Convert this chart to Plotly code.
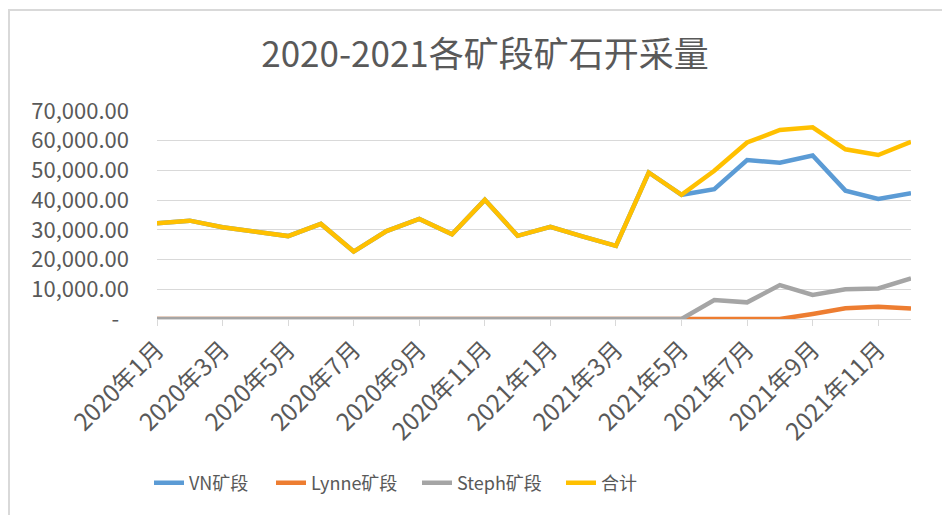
import plotly.graph_objects as go

months = [f"2020年{m}月" for m in range(1, 13)] + [f"2021年{m}月" for m in range(1, 13)]

vn = [32200, 33100, 30900, 29400, 27900, 32000, 22700, 29600, 33700, 28500, 40100, 28000,
      31000, 27700, 24600, 49300, 41800, 43700, 53500, 52600, 55000, 43200, 40400, 42300]
lynne = [0, 0, 0, 0, 0, 0, 0, 0, 0, 0, 0, 0,
         0, 0, 0, 0, 0, 0, 0, 0, 1700, 3600, 4100, 3500]
steph = [0, 0, 0, 0, 0, 0, 0, 0, 0, 0, 0, 0,
         0, 0, 0, 0, 0, 6400, 5600, 11400, 8100, 10000, 10300, 13700]
total = [32200, 33100, 30900, 29400, 27900, 32000, 22700, 29600, 33700, 28500, 40100, 28000,
         31000, 27700, 24600, 49300, 41800, 49900, 59400, 63600, 64500, 57100, 55200, 59600]

series_names = ["VN矿段", "Lynne矿段", "Steph矿段", "合计"]
series_colors = ["#5B9BD5", "#ED7D31", "#A5A5A5", "#FFC000"]

y_tickvals = [0, 10000, 20000, 30000, 40000, 50000, 60000, 70000]
y_ticktext = ["-\u00a0\u00a0", "10,000.00", "20,000.00", "30,000.00", "40,000.00",
              "50,000.00", "60,000.00", "70,000.00"]
x_tickvals = months[::2]

FONT = "Noto Sans CJK SC"
GREY_TXT = "#595959"

# page offset (default body margin of the html page)
OFF = 8
W, H = 950 - OFF, 515 - OFF
# plot area in page pixels
L, R, T, B = 157 - OFF, 911 - OFF, 111 - OFF, 319 - OFF

def px(xp):
    return (xp - OFF - L) / (R - L)

def py(yp):
    return (B - (yp - OFF)) / (B - T)

legend_keys = ["legend", "legend2", "legend3", "legend4"]
legend_starts = [155, 277, 423, 567]

fig = go.Figure()
for name, vals, col, lk in zip(series_names, [vn, lynne, steph, total], series_colors, legend_keys):
    fig.add_trace(go.Scatter(
        x=months, y=vals, name=name, mode="lines",
        line=dict(color=col, width=4.5), legend=lk, showlegend=True,
    ))

legend_layout = {}
for lk, xs in zip(legend_keys, legend_starts):
    legend_layout[lk] = dict(
        orientation="h", x=px(xs - 6), xanchor="left", y=py(483), yanchor="middle",
        font=dict(size=18, color=GREY_TXT, family=FONT), bgcolor="rgba(0,0,0,0)",
        visible=True,
    )

fig.update_layout(
    width=W, height=H,
    showlegend=True,
    margin=dict(l=L, r=W - R, t=T, b=H - B),
    paper_bgcolor="white", plot_bgcolor="white",
    font=dict(family=FONT, color=GREY_TXT),
    title=dict(text="2020-2021各矿段矿石开采量", x=(485 - OFF) / W, xanchor="center",
               y=1 - (55 - OFF) / H, yanchor="middle", xref="container", yref="container",
               font=dict(size=35, color=GREY_TXT, family=FONT)),
    xaxis=dict(
        type="category", range=[0, 23],
        tickmode="array", tickvals=x_tickvals, ticktext=x_tickvals,
        tickangle=-45, tickfont=dict(size=24, color=GREY_TXT),
        showgrid=False, showline=True, linecolor="#D9D9D9", linewidth=1,
        ticks="outside", ticklen=6, tickcolor="#D9D9D9", tickwidth=1,
        zeroline=False,
    ),
    yaxis=dict(
        range=[0, 70000], tickmode="array", tickvals=y_tickvals, ticktext=y_ticktext,
        tickfont=dict(size=22, color=GREY_TXT),
        showgrid=True, gridcolor="#D9D9D9", gridwidth=1,
        zeroline=False, showline=False, ticks="", ticklabelstandoff=27,
    ),
    shapes=[
        dict(type="line", xref="paper", yref="paper", x0=px(8), x1=px(960), y0=py(10), y1=py(10),
             line=dict(color="#D9D9D9", width=2)),
        dict(type="line", xref="paper", yref="paper", x0=px(9), x1=px(9), y0=py(10), y1=py(520),
             line=dict(color="#D9D9D9", width=2)),
    ],
    **legend_layout,
)

fig.write_html("out.html")
